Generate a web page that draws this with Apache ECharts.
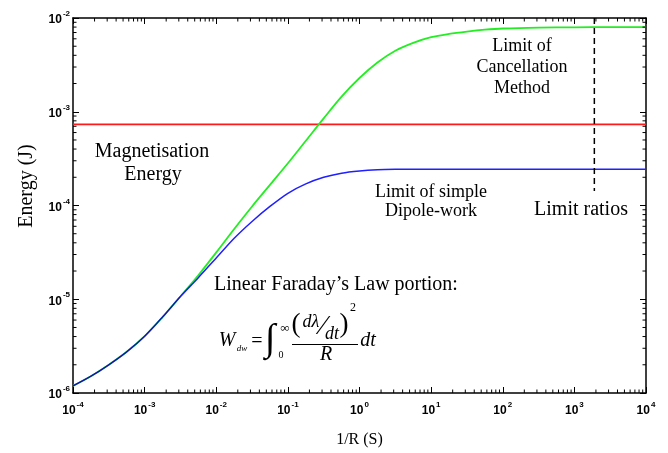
<!DOCTYPE html>
<html><head><meta charset="utf-8">
<script src="https://cdn.jsdelivr.net/npm/echarts@6/dist/echarts.min.js"></script>
<style>html,body{margin:0;padding:0;background:#fff}#c{width:668px;height:453px}</style>
</head><body><div id="c"></div>
<script>
// ---- data ----
const xValues = [1e-4, 1.78e-4, 3.16e-4, 5.62e-4, 1e-3, 1.78e-3, 3.16e-3, 5.62e-3, 1e-2, 1.78e-2, 3.16e-2, 5.62e-2, 0.1, 0.178, 0.316, 0.562, 1, 1.78, 3.16, 5.62, 10, 17.8, 31.6, 56.2, 100, 316, 1000, 3160, 10000];
const cancellationEnergy = [1.19e-6, 1.51e-6, 2.00e-6, 2.75e-6, 4.03e-6, 6.46e-6, 1.07e-5, 1.80e-5, 3.16e-5, 5.62e-5, 9.77e-5, 1.66e-4, 2.82e-4, 4.90e-4, 8.51e-4, 1.45e-3, 2.29e-3, 3.35e-3, 4.47e-3, 5.43e-3, 6.24e-3, 6.76e-3, 7.16e-3, 7.50e-3, 7.73e-3, 7.91e-3, 7.96e-3, 7.98e-3, 7.98e-3];
const dipoleEnergy = [1.19e-6, 1.51e-6, 2.00e-6, 2.75e-6, 4.03e-6, 6.46e-6, 1.07e-5, 1.70e-5, 2.75e-5, 4.47e-5, 6.76e-5, 9.77e-5, 1.35e-4, 1.70e-4, 2.00e-4, 2.21e-4, 2.33e-4, 2.40e-4, 2.43e-4, 2.44e-4, 2.44e-4, 2.44e-4, 2.44e-4, 2.44e-4, 2.44e-4, 2.44e-4, 2.44e-4, 2.44e-4, 2.44e-4];
const linearPortionX = [1e-4, 1.78e-4, 3.16e-4, 5.62e-4, 1e-3, 1.78e-3, 3.16e-3];
const linearPortionEnergy = [1.19e-6, 1.51e-6, 2.00e-6, 2.75e-6, 4.03e-6, 6.46e-6, 1.07e-5];
const magnetisationEnergy = 7.33e-4;
const xRange = [1e-4, 1e4];
const limitRatioX = 1.9e3;
const limitRatioY = [1e-2, 1.43e-4];
const xTickExponents = [-4, -3, -2, -1, 0, 1, 2, 3, 4];
const yTickExponents = [-6, -5, -4, -3, -2];

// ---- helpers ----
const L = Math.log10;
const toLog = (xs, ys) => xs.map((x, i) => [L(x), L(ys[i])]);
const minorX = [], minorY = [];
for (let n = xTickExponents[0]; n < xTickExponents[xTickExponents.length - 1]; n++)
  for (let k = 2; k <= 9; k++) minorX.push(n + L(k));
for (let n = yTickExponents[0]; n < yTickExponents[yTickExponents.length - 1]; n++)
  for (let k = 2; k <= 9; k++) minorY.push(n + L(k));
const xMin = xTickExponents[0], xMax = xTickExponents[xTickExponents.length - 1];
const yMin = yTickExponents[0], yMax = yTickExponents[yTickExponents.length - 1];

const rich = {
  b: { fontSize: 12, fontWeight: 'bold', fontFamily: 'Liberation Sans', color: '#000', padding: [4, 0, 0, 0] },
  s: { fontSize: 8, fontWeight: 'bold', fontFamily: 'Liberation Sans', color: '#000', verticalAlign: 'top', padding: [0, 0, 0, 1] }
};
const fmt = v => '{b|10}{s|' + Math.round(v) + '}';
const axisLine = { show: true, onZero: false, lineStyle: { color: '#000', width: 1.5 } };
const axisTick = { show: true, inside: true, length: 6, lineStyle: { color: '#000', width: 1 } };

const serif = 'Liberation Serif';
function txt(text, x, y, size, extra) {
  return {
    type: 'text', x: x, y: y, silent: true,
    style: Object.assign({
      text: text, fontFamily: serif, fontSize: size, fill: '#000',
      align: 'center', verticalAlign: 'middle', textAlign: 'center', textVerticalAlign: 'middle'
    }, extra || {})
  };
}
const it = { fontStyle: 'italic' };

const graphics = [
  { type: 'text', x: 27, y: 186, rotation: Math.PI / 2, silent: true,
    style: { text: 'Energy (J)', fontFamily: serif, fontSize: 20, fill: '#000',
      align: 'center', verticalAlign: 'middle', textAlign: 'center', textVerticalAlign: 'middle' } },
  txt('Magnetisation', 152, 152, 20),
  txt('Energy', 153, 175, 20),
  txt('Limit of', 522, 46, 18),
  txt('Cancellation', 522, 67, 18),
  txt('Method', 522, 88, 18),
  txt('Limit of simple', 431, 192, 18),
  txt('Dipole-work', 431, 211, 18),
  txt('Limit ratios', 581, 210, 20),
  txt('Linear Faraday\u2019s Law portion:', 336, 285, 20),
  // formula
  txt('W', 227, 341, 20, it),
  txt('dw', 242, 349, 9, it),
  txt('=', 257, 342, 20),
  txt('\u222B', 270, 340, 38, it),
  txt('\u221E', 285, 329, 13),
  txt('0', 281, 355, 10),
  txt('(', 296, 325, 27),
  txt('d\u03BB', 311, 322, 18, it),
  txt('\u2044', 323, 327, 28),
  txt('dt', 332, 334, 18, it),
  txt(')', 344, 325, 27),
  txt('2', 353, 308, 12),
  { type: 'line', silent: true, shape: { x1: 292, y1: 344.5, x2: 358, y2: 344.5 }, style: { stroke: '#000', lineWidth: 1 } },
  txt('R', 326, 355, 20, it),
  txt('dt', 368, 341, 20, it)
];

const chart = echarts.init(document.getElementById('c'), null, { renderer: 'canvas' });
chart.setOption({
  animation: false,
  backgroundColor: '#fff',
  grid: { left: 73, right: 22, top: 18, bottom: 58, containLabel: false },
  xAxis: [
    { type: 'value', min: xMin, max: xMax, interval: 1, position: 'bottom',
      axisLine, axisTick, splitLine: { show: false },
      axisLabel: { formatter: fmt, rich, margin: 8 },
      name: '1/R (S)', nameLocation: 'middle', nameGap: 39,
      nameTextStyle: { fontFamily: serif, fontSize: 16, color: '#000' } },
    { type: 'value', min: xMin, max: xMax, interval: 1, position: 'top',
      axisLine, axisTick, splitLine: { show: false }, axisLabel: { show: false } }
  ],
  yAxis: [
    { type: 'value', min: yMin, max: yMax, interval: 1, position: 'left',
      axisLine, axisTick, splitLine: { show: false },
      axisLabel: { formatter: fmt, rich, margin: 3 } },
    { type: 'value', min: yMin, max: yMax, interval: 1, position: 'right',
      axisLine, axisTick, splitLine: { show: false }, axisLabel: { show: false } }
  ],
  series: [
    { name: 'Magnetisation', type: 'line', showSymbol: false, silent: true,
      data: [[L(xRange[0]), L(magnetisationEnergy)], [L(xRange[1]), L(magnetisationEnergy)]],
      lineStyle: { color: '#ff1a1a', width: 1.6 }, z: 2 },
    { name: 'Cancellation', type: 'line', showSymbol: false, silent: true, smooth: 0.3,
      data: toLog(xValues, cancellationEnergy),
      lineStyle: { color: '#22ee22', width: 1.8 }, z: 3 },
    { name: 'Dipole', type: 'line', showSymbol: false, silent: true, smooth: 0.3,
      data: toLog(xValues, dipoleEnergy),
      lineStyle: { color: '#1f1fff', width: 1.5 }, z: 4 },
    { name: 'Linear', type: 'line', showSymbol: false, silent: true, smooth: 0.3,
      data: toLog(linearPortionX, linearPortionEnergy),
      lineStyle: { color: '#111', width: 0.8, opacity: 0.7 }, z: 5 },
    { name: 'Limit ratios', type: 'line', showSymbol: false, silent: true,
      data: [[L(limitRatioX), L(limitRatioY[0])], [L(limitRatioX), L(limitRatioY[1])]],
      lineStyle: { color: '#000', width: 1.5, type: [6, 4] }, z: 5 },
    { type: 'custom', silent: true, z: 6,
      data: minorX.map(v => [v, yMin]),
      renderItem: (params, api) => {
        const v = api.value(0);
        const pb = api.coord([v, yMin]), pt = api.coord([v, yMax]);
        return { type: 'group', children: [
          { type: 'line', shape: { x1: pb[0], y1: pb[1], x2: pb[0], y2: pb[1] - 3.5 }, style: { stroke: '#000', lineWidth: 1 } },
          { type: 'line', shape: { x1: pt[0], y1: pt[1], x2: pt[0], y2: pt[1] + 3.5 }, style: { stroke: '#000', lineWidth: 1 } }
        ] };
      } },
    { type: 'custom', silent: true, z: 6,
      data: minorY.map(v => [xMin, v]),
      renderItem: (params, api) => {
        const v = api.value(1);
        const pl = api.coord([xMin, v]), pr = api.coord([xMax, v]);
        return { type: 'group', children: [
          { type: 'line', shape: { x1: pl[0], y1: pl[1], x2: pl[0] + 3.5, y2: pl[1] }, style: { stroke: '#000', lineWidth: 1 } },
          { type: 'line', shape: { x1: pr[0], y1: pr[1], x2: pr[0] - 3.5, y2: pr[1] }, style: { stroke: '#000', lineWidth: 1 } }
        ] };
      } }
  ],
  graphic: graphics
});
</script></body></html>
